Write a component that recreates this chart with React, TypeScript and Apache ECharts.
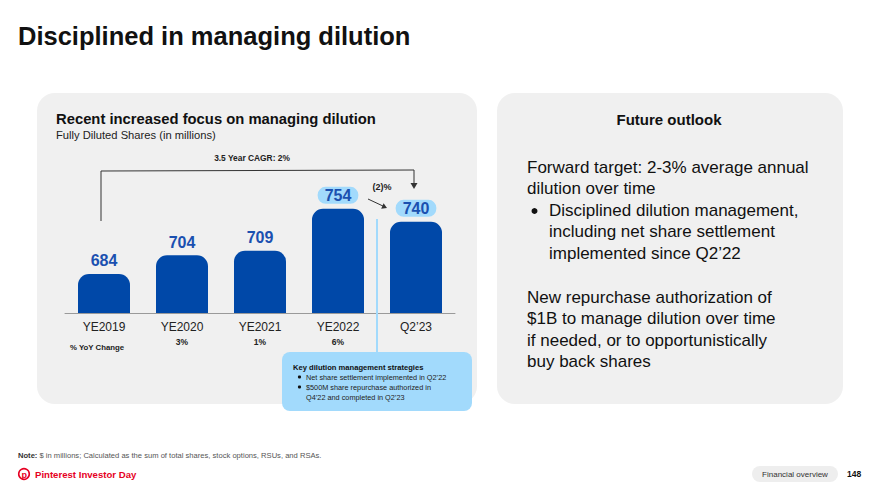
import React, { useEffect, useRef } from "react";
import * as echarts from "echarts";

const categories = ["YE2019", "YE2020", "YE2021", "YE2022", "Q2’23"];
const shares = [684, 704, 709, 754, 740];
const yoyChange = ["", "3%", "1%", "6%", ""];
const highlighted = [false, false, false, true, true];

const FONT = "'Liberation Sans', Arial, sans-serif";
const BAR = "#0048A8";
const LABEL = "#1B50B0";
const LIGHT = "#A2DAFC";
const PANEL = "#F0F0F0";

export default function App() {
  const ref = useRef<HTMLDivElement>(null);
  useEffect(() => {
    document.body.style.margin = "0";
    const chart = echarts.init(ref.current!, null, { renderer: "svg" });
    const txt = (x: number, y: number, text: string, o: any = {}, z = 12) => ({
      type: "text",
      silent: true,
      z,
      style: {
        x,
        y,
        text,
        fontFamily: FONT,
        fontSize: 12,
        fill: "#222",
        align: "left",
        verticalAlign: "middle",
        ...o,
      },
    });
    const dot = (cx: number, cy: number, r: number) => ({
      type: "circle",
      silent: true,
      z: 12,
      shape: { cx, cy, r },
      style: { fill: "#111" },
    });
    const option: any = {
      animation: false,
      backgroundColor: "#ffffff",
      grid: { left: 65, right: 425, top: 166, bottom: 182 },
      xAxis: {
        type: "category",
        data: categories,
        axisTick: { show: false },
        axisLine: { lineStyle: { color: "#9a9a9a", width: 1 } },
        axisLabel: {
          margin: 6,
          formatter: (v: string, i: number) => `{c|${v}}\n{y|${yoyChange[i]}}`,
          rich: {
            c: { fontFamily: FONT, fontSize: 12, color: "#222", lineHeight: 16 },
            y: { fontFamily: FONT, fontSize: 8.5, fontWeight: "bold", color: "#222", lineHeight: 14 },
          },
        },
      },
      yAxis: { type: "value", min: 642, max: 800, show: false, splitLine: { show: false } },
      series: [
        {
          type: "bar",
          barWidth: 52,
          z: 5,
          itemStyle: { color: BAR, borderRadius: [11, 11, 0, 0] },
          label: {
            show: true,
            position: "top",
            distance: 5,
            fontFamily: FONT,
            fontSize: 16,
            fontWeight: "bold",
            color: LABEL,
          },
          data: shares.map((v, i) =>
            highlighted[i]
              ? {
                  value: v,
                  label: { backgroundColor: LIGHT, borderRadius: 8, padding: [1, 7, 0, 7] },
                }
              : v
          ),
        },
      ],
      graphic: [
        // panels
        { type: "rect", z: -10, silent: true, shape: { x: 37, y: 93, width: 440, height: 311, r: 18 }, style: { fill: PANEL } },
        { type: "rect", z: -10, silent: true, shape: { x: 497, y: 93, width: 346, height: 311, r: 18 }, style: { fill: PANEL } },
        // title
        txt(18, 36, "Disciplined in managing dilution", { fontSize: 25.5, fontWeight: "bold", fill: "#111" }),
        // left panel header
        txt(56, 119, "Recent increased focus on managing dilution", { fontSize: 14.8, fontWeight: "bold", fill: "#111" }),
        txt(56, 135, "Fully Diluted Shares (in millions)", { fontSize: 11.2, fill: "#222" }),
        txt(252, 158, "3.5 Year CAGR: 2%", { fontSize: 8.4, fontWeight: "bold", align: "center" }),
        // CAGR bracket
        { type: "polyline", silent: true, shape: { points: [[101, 221], [101, 171], [414, 170], [414, 185]] }, style: { stroke: "#333", lineWidth: 1, fill: null } },
        { type: "polygon", silent: true, shape: { points: [[410.5, 183], [417.5, 183], [414, 189]] }, style: { fill: "#333" } },
        // (2)% arrow
        txt(382, 187, "(2)%", { fontSize: 9, fontWeight: "bold", align: "center" }),
        { type: "line", silent: true, shape: { x1: 368, y1: 199, x2: 384, y2: 206.5 }, style: { stroke: "#333", lineWidth: 1 } },
        { type: "polygon", silent: true, shape: { points: [[387, 208], [381.2, 208.7], [383.6, 203.2]] }, style: { fill: "#333" } },
        // light vertical line
        { type: "line", silent: true, z: 1, shape: { x1: 377, y1: 219, x2: 377, y2: 353 }, style: { stroke: LIGHT, lineWidth: 2 } },
        txt(70, 347, "% YoY Change", { fontSize: 7.8, fontWeight: "bold" }),
        // callout
        { type: "rect", silent: true, z: 10, shape: { x: 282, y: 352, width: 190, height: 59, r: 8 }, style: { fill: LIGHT } },
        txt(293, 367, "Key dilution management strategies", { fontSize: 7.6, fontWeight: "bold", fill: "#111" }),
        dot(299.5, 377, 1.6),
        txt(306, 377, "Net share settlement implemented in Q2’22", { fontSize: 7.3, fill: "#222" }),
        dot(299.5, 387, 1.6),
        txt(306, 387, "$500M share repurchase authorized in", { fontSize: 7.3, fill: "#222" }),
        txt(306, 397, "Q4’22 and completed in Q2’23", { fontSize: 7.3, fill: "#222" }),
        // right panel
        txt(669, 119, "Future outlook", { fontSize: 15, fontWeight: "bold", align: "center", fill: "#111" }),
        txt(527, 167, "Forward target: 2-3% average annual", { fontSize: 17, fill: "#111" }),
        txt(527, 188.5, "dilution over time", { fontSize: 17, fill: "#111" }),
        dot(534.5, 211, 3),
        txt(549, 210, "Disciplined dilution management,", { fontSize: 17, fill: "#111" }),
        txt(549, 231.5, "including net share settlement", { fontSize: 17, fill: "#111" }),
        txt(549, 253, "implemented since Q2’22", { fontSize: 17, fill: "#111" }),
        txt(527, 297, "New repurchase authorization of", { fontSize: 17, fill: "#111" }),
        txt(527, 318.5, "$1B to manage dilution over time", { fontSize: 17, fill: "#111" }),
        txt(527, 340, "if needed, or to opportunistically", { fontSize: 17, fill: "#111" }),
        txt(527, 361.5, "buy back shares", { fontSize: 17, fill: "#111" }),
        // footer
        txt(18, 455, "{b|Note:} $ in millions; Calculated as the sum of total shares, stock options, RSUs, and RSAs.", {
          fontSize: 7.6, fill: "#555",
          rich: { b: { fontFamily: FONT, fontSize: 7.6, fontWeight: "bold", fill: "#333" } },
        }),
        { type: "circle", silent: true, shape: { cx: 24, cy: 474, r: 5.3 }, style: { fill: "none", stroke: "#E60023", lineWidth: 1.6 } },
        txt(24.3, 474.5, "p", { fontSize: 9, fontWeight: "bold", fill: "#E60023", align: "center" }),
        txt(35, 474, "Pinterest Investor Day", { fontSize: 9.6, fontWeight: "bold", fill: "#E60023" }),
        { type: "rect", silent: true, shape: { x: 752, y: 466, width: 86, height: 16, r: 8 }, style: { fill: "#EEEEEE" } },
        txt(795, 474, "Financial overview", { fontSize: 8, fill: "#333", align: "center" }),
        txt(847, 474, "148", { fontSize: 8.5, fontWeight: "bold", fill: "#111" }),
      ],
    };
    chart.setOption(option);
    return () => chart.dispose();
  }, []);
  return <div ref={ref} style={{ position: "fixed", left: 0, top: 0, width: 880, height: 495 }} />;
}
